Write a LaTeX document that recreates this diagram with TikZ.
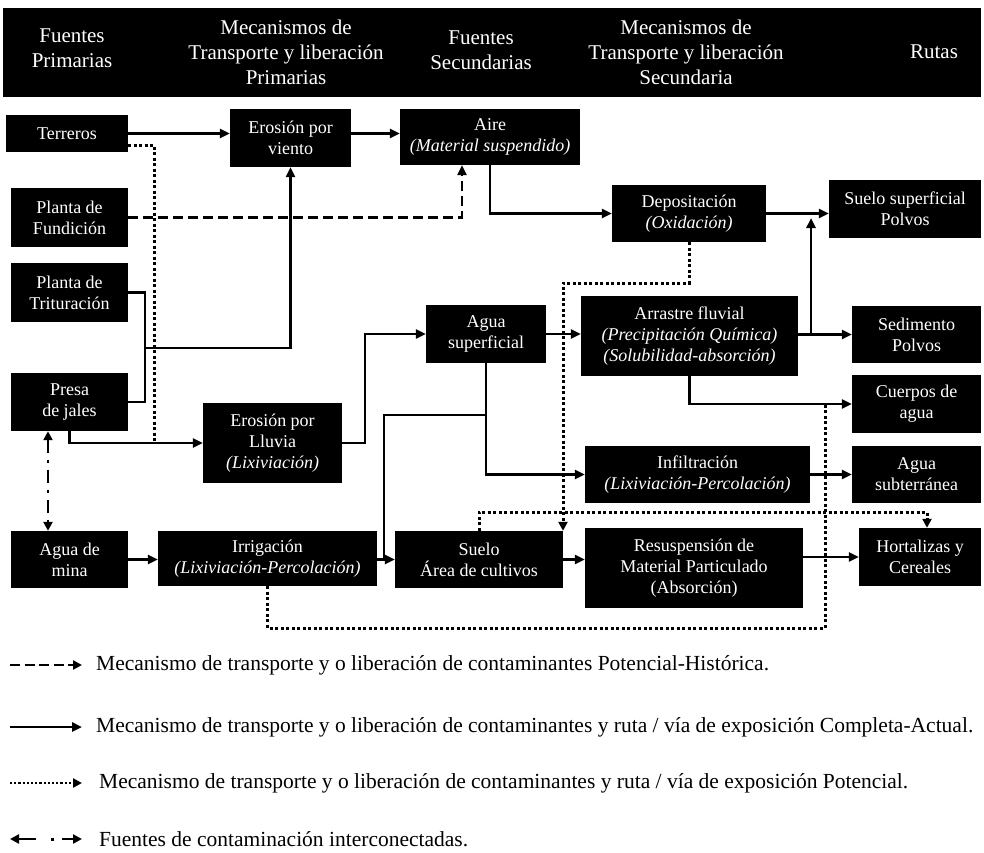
\documentclass[tikz,border=0pt]{standalone}
\usepackage{fontspec}
\setmainfont{Liberation Serif}
\usetikzlibrary{arrows.meta}
\begin{document}
\begin{tikzpicture}[x=1pt,y=-1pt,
  box/.style={fill=black,text=white,align=center,inner sep=0pt,font=\fontsize{18}{21}\selectfont},
  hdr/.style={text=white,align=center,inner sep=0pt,font=\fontsize{21}{25}\selectfont},
  conn/.style={line width=2.8pt},
  arr/.style={conn,-{Triangle[length=10pt,width=9pt]}},
  dashconn/.style={line width=2.8pt,dash pattern=on 10pt off 5pt},
  dasharr/.style={dashconn,-{Triangle[length=10pt,width=9pt]}},
  dotconn/.style={line width=3pt,dash pattern=on 3pt off 2.5pt},
  dotarr/.style={dotconn,-{Triangle[length=9pt,width=9pt]}},
  dashdot/.style={line width=2.8pt,dash pattern=on 13pt off 7pt on 3pt off 7pt,{Triangle[length=9pt,width=9pt]}-{Triangle[length=9pt,width=9pt]}},
  legtext/.style={anchor=west,inner sep=0pt,font=\fontsize{21.5}{26}\selectfont}
]
\useasboundingbox (0,0) rectangle (984,852);
\fill[white] (0,0) rectangle (984,852);
% header
\fill[black] (3,8) rectangle (981,97);
\node[hdr] (h1) at (72,48) {Fuentes\\Primarias};
\node[hdr] (h2) at (286,52) {Mecanismos de\\Transporte y liberación\\Primarias};
\node[hdr] (h3) at (481,50) {Fuentes\\Secundarias};
\node[hdr] (h4) at (686,52) {Mecanismos de\\Transporte y liberación\\Secundaria};
\node[hdr] (h5) at (934,52) {Rutas};
% boxes
\node[box,minimum width=122,minimum height=37] (terreros) at (67,133.5) {Terreros};
\node[box,minimum width=121,minimum height=58] (viento) at (290.5,138) {Erosión por\\viento};
\node[box,minimum width=180,minimum height=56] (aire) at (490,137) {Aire\\\textit{(Material suspendido)}};
\node[box,minimum width=117,minimum height=59] (fundicion) at (69.5,217.5) {Planta de\\Fundición};
\node[box,minimum width=117,minimum height=59] (trituracion) at (69.5,292.5) {Planta de\\Trituración};
\node[box,minimum width=117,minimum height=58] (presa) at (69.5,402) {Presa\\de jales};
\node[box,minimum width=117,minimum height=57] (mina) at (69.5,559.5) {Agua de\\mina};
\node[box,minimum width=139,minimum height=80] (lluvia) at (272.5,443) {Erosión por\\Lluvia\\\textit{(Lixiviación)}};
\node[box,minimum width=219,minimum height=55] (irrig) at (267.5,558.5) {Irrigación\\\textit{(Lixiviación-Percolación)}};
\node[box,minimum width=120,minimum height=58] (aguasup) at (486,334) {Agua\\superficial};
\node[box,minimum width=168,minimum height=57] (suelo) at (479,559.5) {Suelo\\Área de cultivos};
\node[box,minimum width=154,minimum height=57] (depos) at (689,213.5) {Depositación\\\textit{(Oxidación)}};
\node[box,minimum width=217,minimum height=80] (arrastre) at (689.5,336) {Arrastre fluvial\\\textit{(Precipitación Química)}\\\textit{(Solubilidad-absorción)}};
\node[box,minimum width=225,minimum height=57] (infil) at (697.5,474.5) {Infiltración\\\textit{(Lixiviación-Percolación)}};
\node[box,minimum width=218,minimum height=80] (resusp) at (694,568) {Resuspensión de\\Material Particulado\\(Absorción)};
\node[box,minimum width=152,minimum height=58] (supsuelo) at (905,209) {Suelo superficial\\Polvos};
\node[box,minimum width=129,minimum height=57] (sedim) at (916.5,334.5) {Sedimento\\Polvos};
\node[box,minimum width=129,minimum height=58] (cuerpos) at (916.5,404) {Cuerpos de\\agua};
\node[box,minimum width=129,minimum height=57] (subter) at (916.5,474.5) {Agua\\subterránea};
\node[box,minimum width=122,minimum height=58] (hortal) at (920,557) {Hortalizas y\\Cereales};
% helper coordinates
\coordinate (j1) at (811,334.5);
\coordinate (j2) at (811,218);
\coordinate (k) at (384,415);
\coordinate (br) at (145,348);
\coordinate (m) at (365,443);
\coordinate (d1) at (154,443);
\coordinate (d2) at (563,283);
\coordinate (d3) at (927,512);
\coordinate (d4) at (825,628);
% solid connectors
\draw[arr] (terreros.east) -- (terreros.east -| viento.west);
\draw[arr] (viento.east |- terreros.east) -- (aire.west |- terreros.east);
\draw[arr] (aire.south) |- (depos.west);
\draw[arr] (depos.east) -- (depos.east -| supsuelo.west);
\draw[arr] (arrastre.east |- sedim.west) -- (sedim.west);
\draw[arr] (j1) -- (j2);
\draw[arr] (arrastre.south) |- (cuerpos.west);
\draw[arr] (aguasup.east) -- (aguasup.east -| arrastre.west);
\draw[arr] (aguasup.south) |- (infil.west);
\draw[conn] (aguasup.south |- k) -- (k) -- (k |- suelo.west);
\draw[arr] (irrig.east |- suelo.west) -- (suelo.west);
\draw[arr] (mina.east) -- (mina.east -| irrig.west);
\draw[conn] (trituracion.east) -| (br) |- (presa.east);
\draw[arr] (br) -| (viento.south);
\draw[arr] (presa.south) |- (lluvia.west);
\draw[arr] (lluvia.east) -- (m) |- (aguasup.west);
\draw[arr] (suelo.east) -- (suelo.east -| resusp.west);
\draw[arr] (resusp.east |- hortal.west) -- (hortal.west);
\draw[arr] (infil.east) -- (infil.east -| subter.west);
% dashed
\draw[dasharr] (fundicion.east) -| ([xshift=-28pt]aire.south);
% dotted
\draw[dotconn] ([yshift=-11.5pt]terreros.east) -| (d1);
\draw[dotarr] (depos.south) |- (d2) -- (d2 |- suelo.north);
\draw[dotarr] (suelo.north) |- (d3) -- (d3 |- hortal.north);
\draw[dotconn] (irrig.south) |- (d4) -- (d4 |- cuerpos.west);
% dash-dot double arrow
\draw[dashdot] ([xshift=-21.5pt]presa.south) -- ([xshift=-21.5pt]mina.north);
% legend
\coordinate (l1a) at (10,665); \coordinate (l1b) at (82,665);
\coordinate (l2a) at (10,727); \coordinate (l2b) at (82,727);
\coordinate (l3a) at (10,783); \coordinate (l3b) at (82,783);
\coordinate (l4a) at (10,839); \coordinate (l4b) at (36,839);
\coordinate (l4c) at (62,839); \coordinate (l4d) at (82,839);
\draw[line width=2.8pt,dash pattern=on 10pt off 4.5pt,-{Triangle[length=9pt,width=9pt]}] (l1a) -- (l1b);
\draw[arr] (l2a) -- (l2b);
\draw[line width=2.2pt,dash pattern=on 2.2pt off 2pt,-{Triangle[length=9pt,width=9pt]}] (l3a) -- (l3b);
\draw[line width=2.8pt,-{Triangle[length=9pt,width=9pt]}] (l4b) -- (l4a);
\fill (50.5,837.5) rectangle (53.5,840.5);
\draw[line width=2.8pt,-{Triangle[length=9pt,width=9pt]}] (l4c) -- (l4d);
\node[legtext] (t1) at (96,665) {Mecanismo de transporte y o liberación de contaminantes Potencial-Histórica.};
\node[legtext] (t2) at (96,727) {Mecanismo de transporte y o liberación de contaminantes y ruta / vía de exposición Completa-Actual.};
\node[legtext] (t3) at (99,783) {Mecanismo de transporte y o liberación de contaminantes y ruta / vía de exposición Potencial.};
\node[legtext] (t4) at (99,839) {Fuentes de contaminación interconectadas.};
\end{tikzpicture}
\end{document}
